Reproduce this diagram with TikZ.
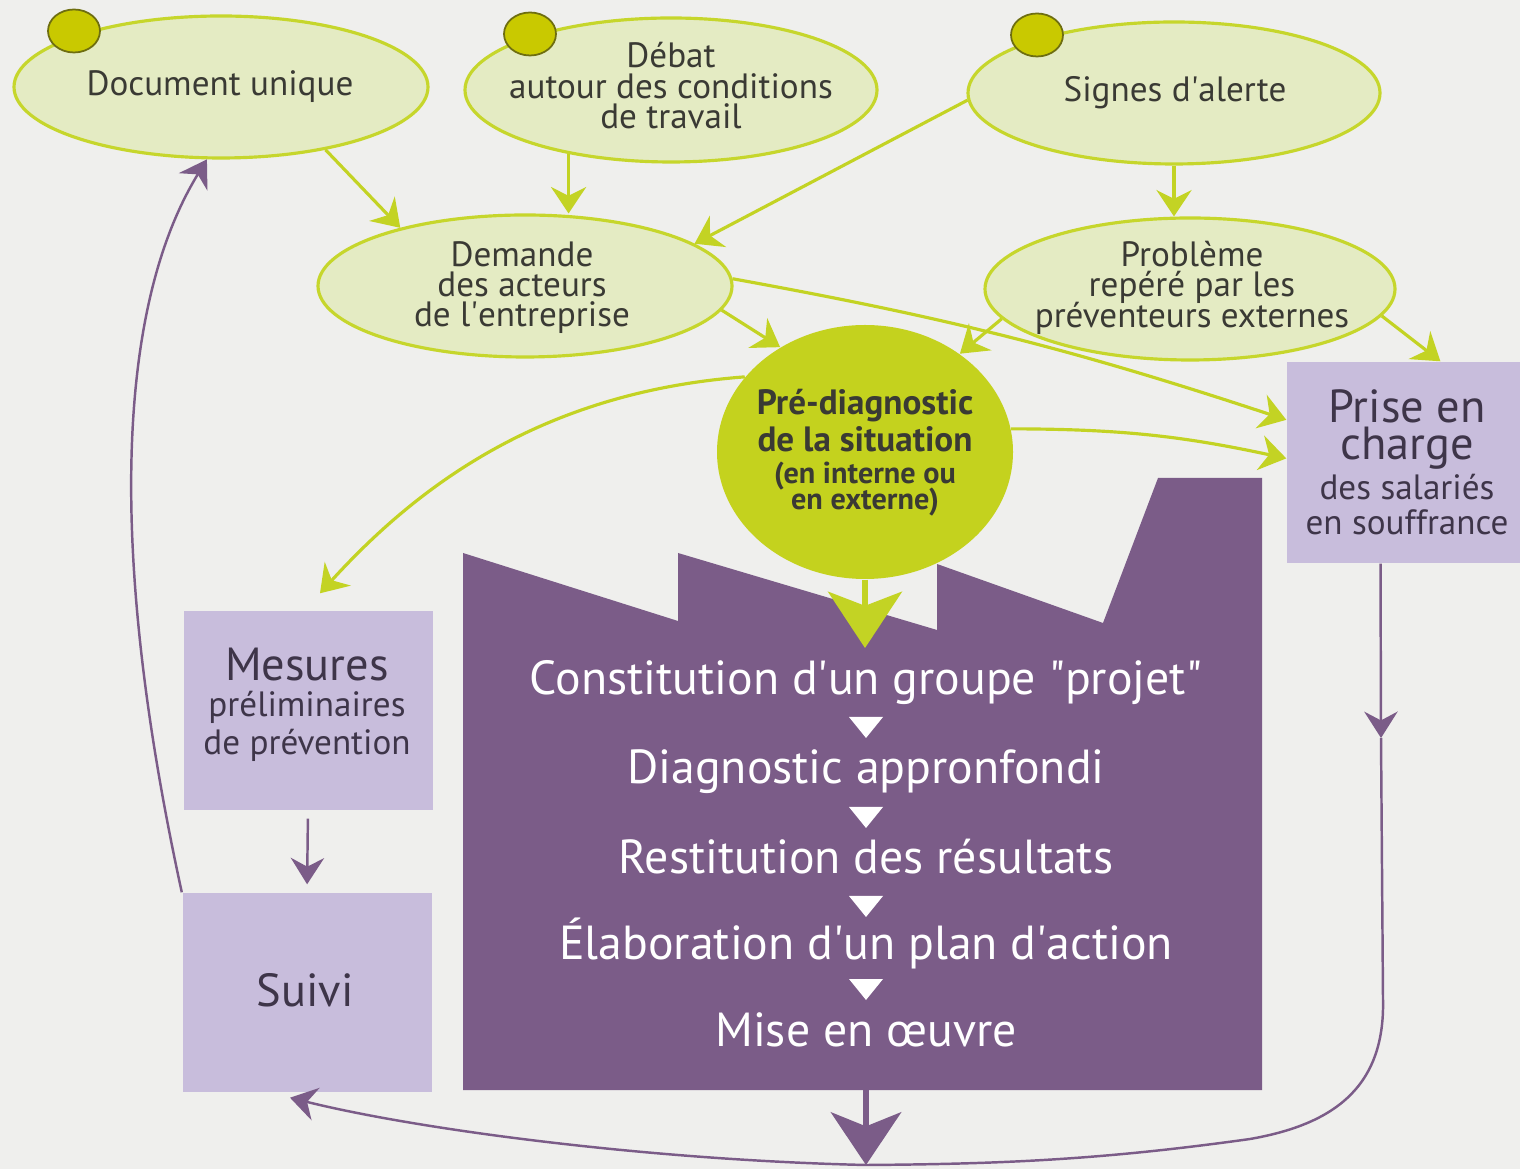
\documentclass[tikz,border=0pt]{standalone}
\usepackage{fontspec}
\setmainfont{PT Sans}
\usetikzlibrary{arrows.meta,shapes.geometric,calc}
\definecolor{bg}{HTML}{EFEFED}
\definecolor{ellfill}{HTML}{E4EBC3}
\definecolor{ellline}{HTML}{C6D62C}
\definecolor{dotfill}{HTML}{C9C900}
\definecolor{dotline}{HTML}{6E6E10}
\definecolor{circfill}{HTML}{C4D21E}
\definecolor{grn}{HTML}{C3D324}
\definecolor{lav}{HTML}{C8BDDC}
\definecolor{purp}{HTML}{7B5C88}
\definecolor{dtext}{HTML}{3A3A34}
\definecolor{ptext}{HTML}{3E3549}
\begin{document}
\begin{tikzpicture}[x=0.1mm,y=-0.1mm,
  ell/.style={ellipse, draw=ellline, fill=ellfill, line width=0.9pt, inner sep=0pt},
  dot/.style={ellipse, draw=dotline, fill=dotfill, line width=0.5pt, inner sep=0pt, minimum width=5.2mm, minimum height=4.3mm},
  box/.style={rectangle, fill=lav, inner sep=0pt},
  lbl/.style={anchor=base, inner sep=0pt, text=dtext, font=\fontsize{10}{11}\selectfont},
  prelbl/.style={anchor=base, inner sep=0pt, text=dtext, font=\fontsize{10}{11}\selectfont\bfseries},
  presmall/.style={anchor=base, inner sep=0pt, text=dtext, font=\fontsize{8.6}{9}\selectfont\bfseries},
  biglbl/.style={anchor=base, inner sep=0pt, text=ptext, font=\fontsize{13.2}{14}\selectfont},
  twolbl/.style={anchor=north, inner sep=0pt, align=center, text=ptext, font=\fontsize{13.2}{10.6}\selectfont},
  midlbl/.style={anchor=base, inner sep=0pt, text=ptext, font=\fontsize{10}{11}\selectfont},
  factlbl/.style={anchor=base, inner sep=0pt, text=white, font=\fontsize{13.6}{15}\selectfont},
  garrow/.style={draw=grn, line width=0.9pt, -{Stealth[length=7.5pt,width=10pt,inset=2.5pt]}},
  gbig/.style={draw=grn, line width=1.7pt, -{Stealth[length=16pt,width=21pt,inset=4pt]}},
  pline/.style={draw=purp, line width=0.7pt},
  parrow/.style={draw=purp, line width=0.7pt, -{Stealth[length=7.5pt,width=9.5pt,inset=2.5pt]}},
  pbig/.style={draw=purp, line width=1.6pt, -{Stealth[length=15pt,width=20pt,inset=4pt]}}
]
\fill[bg] (0,0) rectangle (1520,1169);
\useasboundingbox (0,0) rectangle (1520,1169);

% factory
\fill[purp] (463,553) -- (678,621) -- (678,553) -- (937,630) -- (937,564) -- (1103,623)
  -- (1158,478) -- (1262,478) -- (1262,1090) -- (463,1090) -- cycle;

% boxes
\node[box, minimum width=23.3mm, minimum height=20.1mm] (prise) at (1403.5,462.5) {};
\node[box, minimum width=24.9mm, minimum height=19.9mm] (mes) at (308,710.5) {};
\node[box, minimum width=24.9mm, minimum height=19.9mm] (suivi) at (307,992.5) {};

% ellipses
\node[ell, minimum width=41.4mm, minimum height=14.2mm] (doc) at (221,87) {};
\node[ell, minimum width=41.2mm, minimum height=14.4mm] (debat) at (671,90) {};
\node[ell, minimum width=41.2mm, minimum height=14.2mm] (signes) at (1174,93) {};
\node[ell, minimum width=41.4mm, minimum height=14.2mm] (dem) at (525,286) {};
\node[ell, minimum width=41.0mm, minimum height=14.2mm] (prob) at (1190,289) {};
\node[ellipse, fill=circfill, inner sep=0pt, minimum width=29.6mm, minimum height=25.4mm] (pre) at (865,452) {};

% dots
\node[dot] (d1) at (74,31) {};
\node[dot] (d2) at (530,34) {};
\node[dot] (d3) at (1037,35) {};

% texts
\node[lbl] (tdoc) at (220,96) {Document unique};
\node[lbl] (tdeb1) at (671,68) {Débat};
\node[lbl] (tdeb2) at (671,99) {autour des conditions};
\node[lbl] (tdeb3) at (671,129) {de travail};
\node[lbl] (tsig) at (1175,102) {Signes d\textquotesingle alerte};
\node[lbl] (tdem1) at (522,267) {Demande};
\node[lbl] (tdem2) at (522,297) {des acteurs};
\node[lbl] (tdem3) at (522,327) {de l\textquotesingle entreprise};
\node[lbl] (tprob1) at (1192,267) {Problème};
\node[lbl] (tprob2) at (1192,297) {repéré par les};
\node[lbl] (tprob3) at (1192,328) {préventeurs externes};
\node[prelbl] (tpre1) at (865,415) {Pré-diagnostic};
\node[prelbl] (tpre2) at (865,452) {de la situation};
\node[presmall] (tpre3) at (865,484) {(en interne ou};
\node[presmall] (tpre4) at (865,510) {en externe)};
\node[twolbl] (tpr1) at (1407,389) {Prise en\\charge};
\node[midlbl] (tpr3) at (1407,500) {des salariés};
\node[midlbl] (tpr4) at (1407,535) {en souffrance};
\node[biglbl] (tmes1) at (307,681) {Mesures};
\node[midlbl] (tmes2) at (307,717) {préliminaires};
\node[midlbl] (tmes3) at (307,755) {de prévention};
\node[biglbl] (tsuivi) at (305,1006) {Suivi};
\node[factlbl] (f1) at (866,695) {Constitution d\textquotesingle un groupe \textquotedbl projet\textquotedbl};
\node[factlbl] (f2) at (866,784) {Diagnostic appronfondi};
\node[factlbl] (f3) at (866,874) {Restitution des résultats};
\node[factlbl] (f4) at (866,960) {Élaboration d\textquotesingle un plan d\textquotesingle action};
\node[factlbl] (f5) at (866,1046) {Mise en œuvre};
\foreach \yy in {717,807,896,979}
  \fill[white] (849,\yy) -- (883,\yy) -- (866,\yy+21) -- cycle;

% coordinates
\coordinate (facttop) at (865,648);
\coordinate (factbot) at (866,1090);
\coordinate (pmid) at (1381,738);
\coordinate (pturn) at (1383,1000);
\coordinate (bcurve) at (1250,1139);
\coordinate (bot) at (866,1165);

% green connectors
\draw[garrow] (doc.-31) -- (dem.155);
\draw[garrow] (debat.212) -- (debat.212 |- dem.north);
\draw[garrow] (signes.182) -- (dem.14);
\draw[garrow] (signes.south) -- (signes.south |- prob.north);
\draw[garrow] (dem.-7) -- (pre.129);
\draw[garrow] (dem.2) to[bend left=4] (prise.160);
\draw[garrow] (prob.189) -- (pre.46);
\draw[garrow] (prob.-8) -- (prise.70);
\draw[garrow] (pre.9) to[bend left=6] (prise.178);
\draw[garrow] (pre.148) .. controls +(-200,15) and +(100,-110) .. ($(mes.north)+(12,-17)$);
\draw[gbig] (pre.south) -- (facttop);

% purple connectors
\draw[parrow, shorten <=0.8mm, shorten >=0.8mm] (mes.south) -- (suivi.north);
\draw[parrow] (suivi.north west) .. controls +(-77,-353) and +(-87,142) .. (doc.259);
\draw[parrow] ($(prise.south)+(-23,0)$) -- (pmid);
\draw[pline] (pmid) -- (pturn) .. controls (1385,1090) and (1330,1125) .. (bcurve)
  .. controls (1100,1160) and (1000,1164) .. (bot);
\draw[parrow] (bot) .. controls (650,1160) and (420,1130) .. ($(suivi.south)+(-17,5)$);
\draw[pbig] (factbot) -- (bot);
\end{tikzpicture}
\end{document}
